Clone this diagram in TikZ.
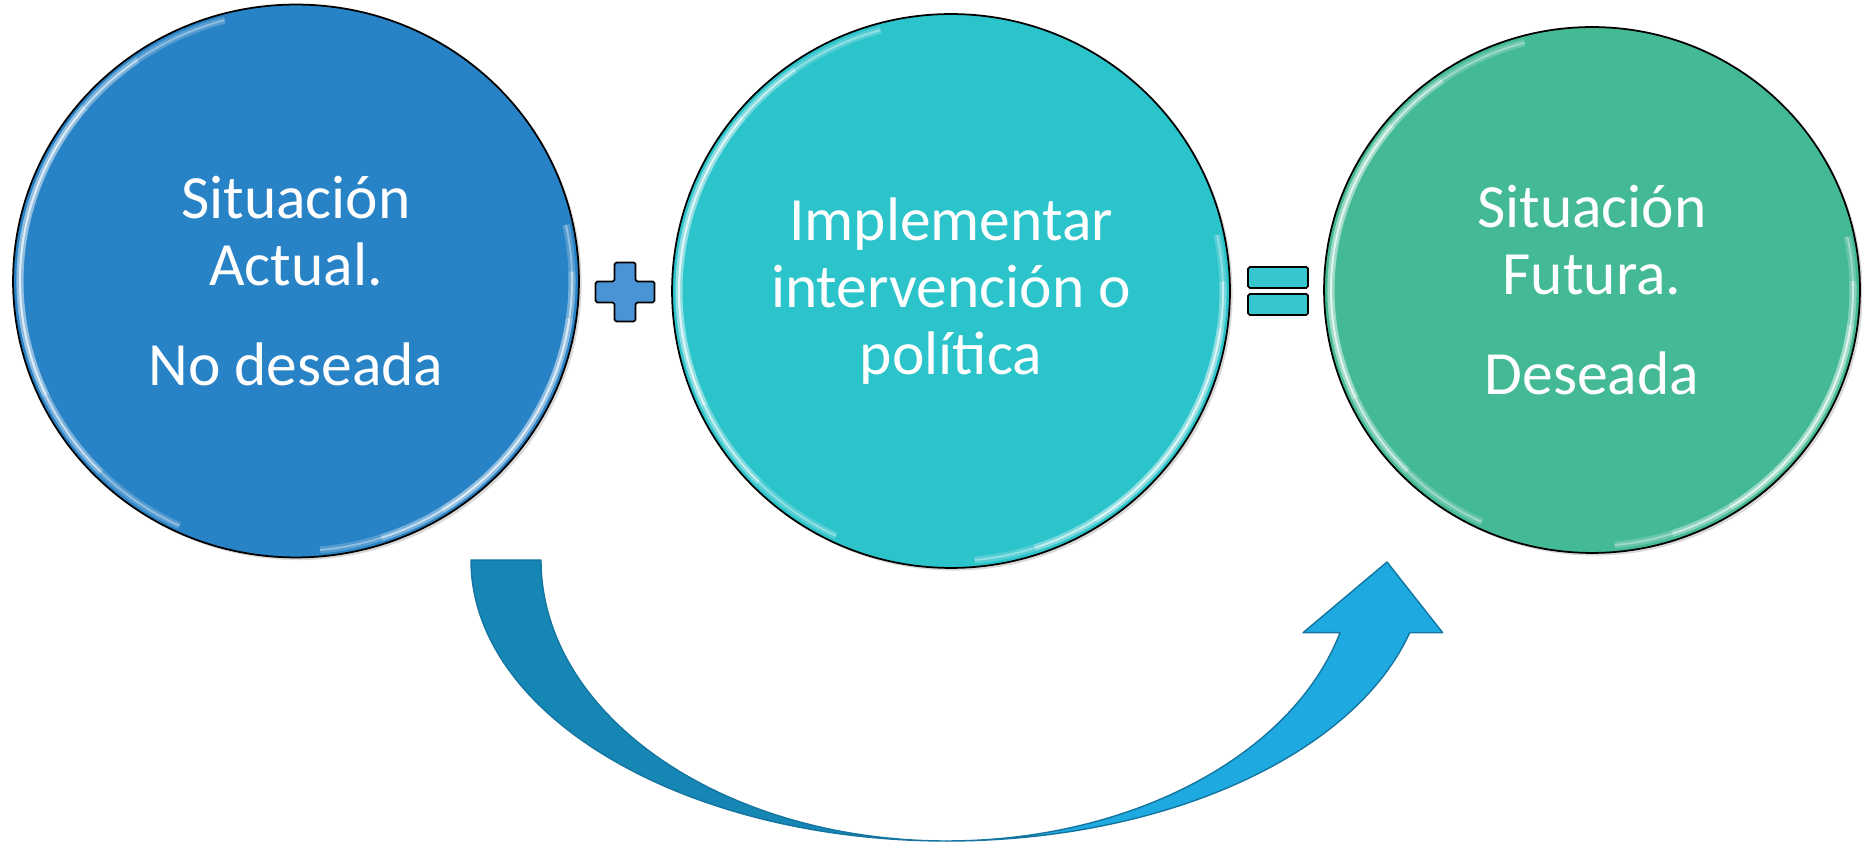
\documentclass[tikz,border=0pt]{standalone}
\usepackage{fontspec}
\setmainfont{Carlito}
\usetikzlibrary{shapes.geometric, calc, shadows}

\definecolor{curblue}{RGB}{40,130,198}
\definecolor{impcyan}{RGB}{43,196,203}
\definecolor{futgreen}{RGB}{67,185,149}
\definecolor{arrowdark}{RGB}{22,135,180}
\definecolor{arrowlight}{RGB}{30,170,224}
\definecolor{arrowline}{RGB}{20,118,160}
\definecolor{plusblue}{RGB}{74,148,214}
\definecolor{eqcyan}{RGB}{56,198,206}

\begin{document}
\begin{tikzpicture}[
    x=0.02cm, y=0.02cm,
    bubble/.style={draw=black, line width=1pt, ellipse, inner sep=0pt, align=center, text=white,
        font=\fontsize{35}{38}\selectfont,
        drop shadow={shadow xshift=1.5pt, shadow yshift=-1.5pt, opacity=.3}},
    rim/.style={white, opacity=.2, line width=4pt},
    gloss/.style={white, opacity=.35, line width=1.1pt},
    sign/.style={draw=black, line width=1pt, rounded corners=1pt},
    eqbar/.style={sign, rectangle, minimum width=1.2cm, minimum height=0.42cm, inner sep=0pt, fill=eqcyan},
    band/.style={draw=arrowline, line width=0.8pt, line join=round}
]
\useasboundingbox (0,0) rectangle (1862,842);

% Three situations
\node[bubble, fill=curblue, minimum width=11.32cm, minimum height=11.06cm] (cur) at (296,561)
    {Situación\\Actual.\\[19pt]No deseada};
\node[bubble, fill=impcyan, minimum width=11.16cm, minimum height=11.08cm] (imp) at (951,551)
    {Implementar\\intervención o\\política};
\node[bubble, fill=futgreen, minimum width=10.72cm, minimum height=10.52cm] (fut) at (1592,552)
    {Situación\\Futura.\\[19pt]Deseada};

% Glossy rims, stacked so the ends fade
\foreach \n/\rx/\ry in {cur/276/270, imp/272/270, fut/261/256} {
    \foreach \a/\b in {105/245, 125/225, 140/205, -85/12, -72/2, -58/-8} {
        \draw[rim] (\n.center) ++(\a:{\rx} and {\ry}) arc[start angle=\a, end angle=\b, x radius=\rx, y radius=\ry];
        \draw[gloss] (\n.center) ++(\a:{\rx} and {\ry}) arc[start angle=\a, end angle=\b, x radius=\rx, y radius=\ry];
    }
}

% Plus sign
\coordinate (plus) at (625,550);
\filldraw[sign, fill=plusblue] (plus) ++(-10.5,29.5) -- ++(21,0) -- ++(0,-19) -- ++(19,0) -- ++(0,-21)
    -- ++(-19,0) -- ++(0,-19) -- ++(-21,0) -- ++(0,19) -- ++(-19,0) -- ++(0,21) -- ++(19,0) -- cycle;

% Equals sign
\node[eqbar] (eqtop) at (1278,564.5) {};
\node[eqbar] (eqbot) at (1278,537.5) {};

% Curved arrow below
\coordinate (tail) at (471,282);
\coordinate (tip) at (1387,280);
\filldraw[band, fill=arrowdark] (tail) arc[start angle=180, end angle=270, x radius=476, y radius=281] coordinate (bot)
    arc[start angle=270, end angle=180, x radius=406, y radius=281] -- cycle;
\filldraw[band, fill=arrowlight] (bot) arc[start angle=270, end angle=345, x radius=479, y radius=281]
    -- ++(33,0) -- (tip) -- ++(-84,-70.7) -- ++(37,0)
    arc[start angle=345, end angle=270, x radius=407, y radius=281] -- cycle;

\end{tikzpicture}
\end{document}
